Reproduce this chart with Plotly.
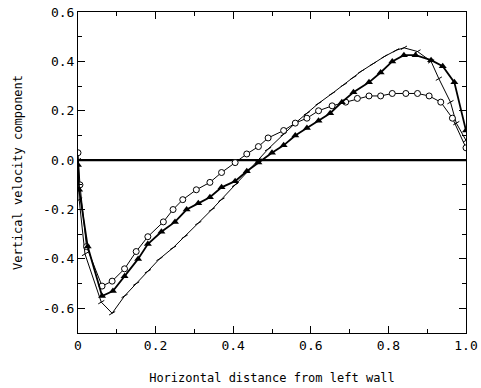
import plotly.graph_objects as go

# Series 1: open circles
x_circ = [0, 0.005, 0.022, 0.062, 0.088, 0.12, 0.15, 0.18, 0.22, 0.245, 0.27, 0.305, 0.34,
          0.37, 0.405, 0.435, 0.465, 0.49, 0.53, 0.56, 0.59, 0.62, 0.655, 0.69, 0.72, 0.75,
          0.78, 0.81, 0.845, 0.875, 0.905, 0.935, 0.965, 1.0]
y_circ = [0.03, -0.10, -0.35, -0.51, -0.49, -0.44, -0.37, -0.31, -0.25, -0.20, -0.16, -0.12,
          -0.09, -0.05, -0.01, 0.025, 0.055, 0.09, 0.12, 0.15, 0.17, 0.20, 0.22, 0.235, 0.25,
          0.26, 0.26, 0.27, 0.27, 0.27, 0.26, 0.235, 0.17, 0.05]

# Series 2: filled triangles
x_tri = [0, 0.003, 0.025, 0.062, 0.09, 0.12, 0.155, 0.18, 0.215, 0.25, 0.28, 0.31, 0.34,
         0.37, 0.405, 0.435, 0.465, 0.5, 0.53, 0.56, 0.59, 0.62, 0.65, 0.68, 0.71, 0.75,
         0.78, 0.81, 0.84, 0.87, 0.91, 0.94, 0.97, 1.0]
y_tri = [-0.02, -0.12, -0.35, -0.55, -0.53, -0.47, -0.40, -0.34, -0.29, -0.25, -0.20, -0.175,
         -0.15, -0.11, -0.085, -0.045, -0.01, 0.03, 0.06, 0.10, 0.13, 0.16, 0.19, 0.235, 0.275,
         0.315, 0.355, 0.40, 0.425, 0.425, 0.405, 0.38, 0.315, 0.12]

# Series 3: line with tick marks
x_tick = [0, 0.003, 0.018, 0.06, 0.088, 0.12, 0.15, 0.18, 0.21, 0.245, 0.275, 0.31, 0.345,
          0.37, 0.405, 0.435, 0.465, 0.49, 0.53, 0.56, 0.59, 0.62, 0.655, 0.685, 0.71, 0.73,
          0.76, 0.79, 0.82, 0.84, 0.875, 0.91, 0.93, 0.96, 0.975, 1.0]
y_tick = [0.0, -0.16, -0.38, -0.575, -0.62, -0.55, -0.50, -0.45, -0.40, -0.355, -0.31, -0.255,
          -0.20, -0.16, -0.10, -0.05, 0.0, 0.045, 0.105, 0.15, 0.19, 0.23, 0.27, 0.305, 0.335,
          0.36, 0.39, 0.42, 0.445, 0.455, 0.44, 0.40, 0.33, 0.235, 0.15, 0.08]

# zero reference line
x_zero = [0, 1]
y_zero = [0, 0]

x_tickvals = [0, 0.2, 0.4, 0.6, 0.8, 1.0]
x_ticktext = ["0", "0.2", "0.4", "0.6", "0.8", "1.0"]
y_tickvals = [-0.6, -0.4, -0.2, 0.0, 0.2, 0.4, 0.6]
y_ticktext = ["-0.6", "-0.4", "-0.2", "0.0", "0.2", "0.4", "0.6"]

FONT = "DejaVu Sans Mono"

fig = go.Figure()
fig.add_trace(go.Scatter(x=x_zero, y=y_zero, mode="lines",
                         line=dict(color="black", width=2.2), showlegend=False))
fig.add_trace(go.Scatter(x=x_tick, y=y_tick, mode="lines+markers",
                         line=dict(color="black", width=1),
                         marker=dict(symbol="line-ns", size=5, angle=60,
                                     line=dict(color="black", width=1)),
                         showlegend=False))
fig.add_trace(go.Scatter(x=x_circ, y=y_circ, mode="lines+markers",
                         line=dict(color="black", width=1),
                         marker=dict(symbol="circle", size=6, color="white",
                                     line=dict(color="black", width=1)),
                         showlegend=False))
fig.add_trace(go.Scatter(x=x_tri, y=y_tri, mode="lines+markers",
                         line=dict(color="black", width=1.8),
                         marker=dict(symbol="triangle-up", size=7, color="black"),
                         showlegend=False))

axis_common = dict(showgrid=False, zeroline=False, showline=True, linecolor="black",
                   linewidth=1, mirror="ticks", ticks="inside", ticklen=7,
                   tickcolor="black", automargin=False,
                   tickfont=dict(family=FONT, size=13, color="black"))

fig.update_xaxes(range=[0, 1.0], tickvals=x_tickvals, ticktext=x_ticktext,
                 minor=dict(ticks="inside", dtick=0.1, ticklen=4, tickcolor="black"),
                 title=dict(text="Horizontal distance from left wall",
                            font=dict(family=FONT, size=12, color="black"), standoff=22),
                 **axis_common)
fig.update_yaxes(range=[-0.7, 0.6], tickvals=y_tickvals, ticktext=y_ticktext,
                 minor=dict(ticks="inside", dtick=0.1, ticklen=4, tickcolor="black"),
                 title=dict(text="Vertical velocity component",
                            font=dict(family=FONT, size=12, color="black"), standoff=17),
                 **axis_common)

fig.update_layout(width=481, height=388, margin=dict(l=78, r=15, t=12, b=55),
                  plot_bgcolor="white", paper_bgcolor="white")

fig.write_html("out.html")
